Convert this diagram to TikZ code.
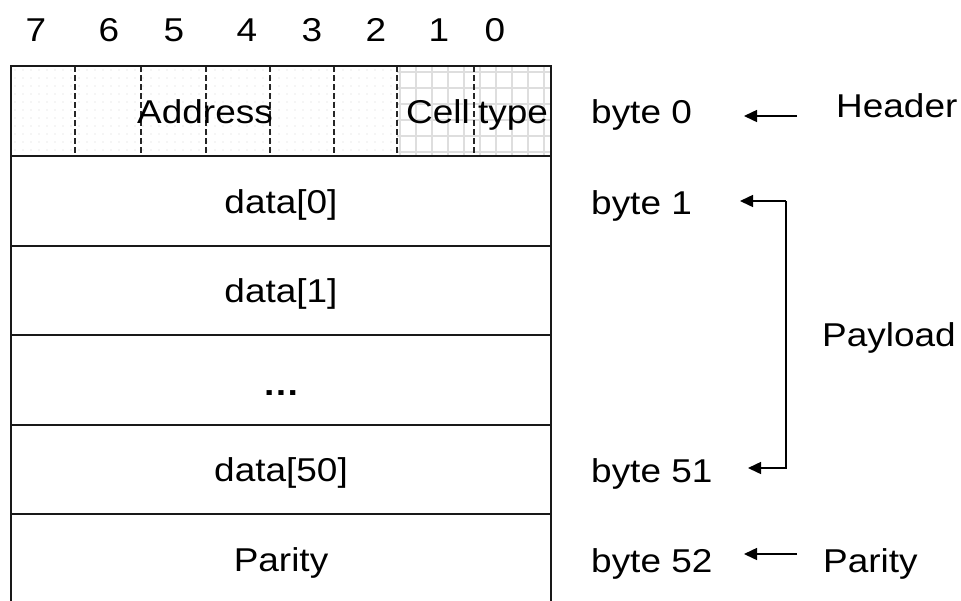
\documentclass[tikz,border=0pt]{standalone}
\usepackage{fontspec}
\setmainfont{Liberation Sans}[FakeStretch=1.12]
\usetikzlibrary{arrows.meta}
\begin{document}
\begin{tikzpicture}[x=1pt,y=-1pt,
  lbl/.style={anchor=base,inner sep=0pt,font=\fontsize{33}{40}\selectfont},
  lbll/.style={lbl,anchor=base west},
  border/.style={line width=2pt,draw=black!90},
  bitsep/.style={line width=1.5pt,dash pattern=on 6pt off 3pt,draw=black!85},
  ptr/.style={line width=1.5pt,-{Triangle[length=13pt,width=12pt]}},
]
\useasboundingbox (0,0) rectangle (961,600);
\clip (0,0) rectangle (961,600);
\fill[white] (0,0) rectangle (961,600);

% dotted background of the address field
\foreach \x in {15,23,...,395}
  \foreach \y in {70,78,...,154}
    \fill[black!16] (\x,\y) circle (0.7pt);
% grid background of the cell type field
\foreach \x in {400,416,...,550}
  \draw[black!13,line width=1.5pt] (\x,66) -- (\x,156);
\foreach \y in {72,88,...,152}
  \draw[black!13,line width=1.5pt] (397,\y) -- (551,\y);

% bit separators in the header byte
\foreach \x in {75,141,206,270,334,397,474}
  \draw[bitsep] (\x,66) -- (\x,156);

% frame and row separators
\draw[border] (11,610) -- (11,66) -- (551,66) -- (551,610);
\foreach \y in {156,246,335,425,514,604}
  \draw[border] (11,\y) -- (551,\y);

% bit numbers
\foreach \d/\x in {7/36,6/109,5/174,4/247,3/312,2/376,1/439,0/495}
  \node[lbl] (bit\d) at (\x,41) {\d};

% field contents
\node[lbl] (addr) at (205,123) {Address};
\node[lbl] (cell) at (438,123) {Cell};
\node[lbl] (ctype) at (513,123) {type};
\node[lbl] (d0) at (281,213) {data[0]};
\node[lbl] (d1) at (281,302) {data[1]};
\node[lbl] (dots) at (281,395) {\textbf{\ldots}};
\node[lbl] (d50) at (281,481) {data[50]};
\node[lbl] (par) at (281,571) {Parity};

% byte offsets
\node[lbll] (b0) at (591,123) {byte 0};
\node[lbll] (b1) at (591,214) {byte 1};
\node[lbll] (b51) at (591,482) {byte 51};
\node[lbll] (b52) at (591,572) {byte 52};

% section names
\node[lbll] (hdr) at (836,117) {Header};
\node[lbll] (pay) at (822,346) {Payload};
\node[lbll] (pty) at (823,572) {Parity};

% pointers
\coordinate (hdrS) at (797,116);
\coordinate (hdrT) at (744,116);
\coordinate (payTop) at (786,201);
\coordinate (payBot) at (786,468);
\coordinate (payT1) at (740,201);
\coordinate (payT2) at (748,468);
\coordinate (ptyS) at (797,554);
\coordinate (ptyT) at (744,554);

\draw[ptr] (hdrS) -- (hdrT);
\draw[ptr] (payTop) -- (payT1);
\draw[ptr] (payTop) -- (payBot) -- (payT2);
\draw[ptr] (ptyS) -- (ptyT);
\end{tikzpicture}
\end{document}
